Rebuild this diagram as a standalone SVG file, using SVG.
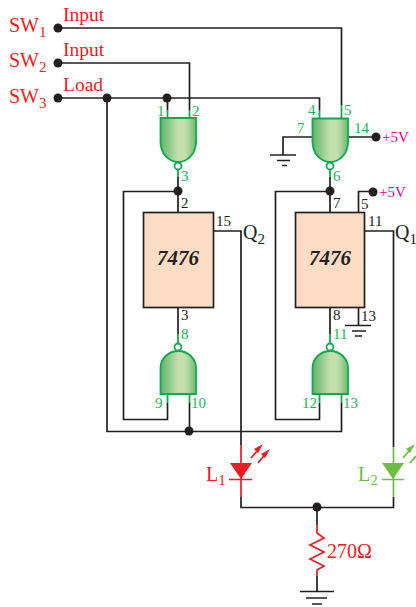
<svg xmlns="http://www.w3.org/2000/svg" width="416" height="607" viewBox="0 0 416 607">
<style>
text{font-family:"Liberation Serif","Times New Roman",serif}
.w{fill:none;stroke:#231f20;stroke-width:1.700}
.g{fill:none;stroke:#13a84f;stroke-width:1.800}
.r{fill:none;stroke:#ed1c24;stroke-width:1.700}
.l{fill:none;stroke:#6dbe45;stroke-width:1.700}
.d{fill:#231f20}
.gate{fill:url(#gg);stroke:#13a84f;stroke-width:1.800}
.bub{fill:#fff;stroke:#13a84f;stroke-width:1.800}
.box{fill:#fcdcc4;stroke:#231f20;stroke-width:1.700}
.big{font-size:20px;fill:#ed1c24}
.lab{font-size:19.500px;fill:#ed1c24}
.sub{font-size:15px;fill:#ed1c24}
.pin{font-size:15px;fill:#22b459}
.blk{font-size:15px;fill:#231f20}
.v{font-size:15px;fill:#ec008c}
.q{font-size:20px;fill:#231f20}
.ic{font-size:21px;font-weight:bold;font-style:italic;fill:#231f20}
</style>
<defs>
<linearGradient id="gg" x1="0" x2="1" y1="0" y2="0">
<stop offset="0" stop-color="#5fb568"/><stop offset="0.5" stop-color="#c4dfae"/><stop offset="0.7" stop-color="#c4dfae"/><stop offset="1" stop-color="#6fbc70"/>
</linearGradient>
</defs>
<g id="connectors">
<path class="w" d="M58 28H341.500V105M58 63H189.500V110M58 98H319.500V110M107 98V431.500H341.500V403M167.500 98V110"/>
<path class="w" d="M178 177V212M178 191.500H123.500V419.500H167.500V403M189.500 403V431.500"/>
<path class="w" d="M178 307V334"/>
<path class="w" d="M330 177V212M330 191.500H275.500V419.500H319.500V403"/>
<path class="w" d="M330 307V334M358.500 307V325"/>
<path class="w" d="M312 137H283V155M348 137H376M358.500 212V191.500H373"/>
<path class="w" d="M213 231H241V445M241 497V507.500H393.500V497M364 231H393.500V447"/>
<path class="w" d="M317 507V525M317 576V591"/>
<path class="w" d="M270 155H296M277 160.500H290M282 165.500H287M345 325.500H371M352 331H366M355 336H362M300 591.500H334M306 598H327M312 604H322"/>
<path class="g" d="M167.500 110V118M189.500 110V118M178 170V177M319.500 110V118M341.500 105V118M330 170V177M178 334V343M330 334V343M167.500 394V403M189.500 394V403M319.500 394V403M341.500 394V403"/>
</g>
<g id="sw1"><circle class="d" cx="58" cy="28" r="4.500"/><text class="big" x="9" y="32">SW<tspan class="sub" dy="5">1</tspan></text><text class="lab" x="63" y="21">Input</text></g>
<g id="sw2"><circle class="d" cx="58" cy="63" r="4.500"/><text class="big" x="9" y="67">SW<tspan class="sub" dy="5">2</tspan></text><text class="lab" x="63" y="56">Input</text></g>
<g id="sw3"><circle class="d" cx="58" cy="98" r="4.500"/><text class="big" x="9" y="103">SW<tspan class="sub" dy="5">3</tspan></text><text class="lab" x="63" y="91">Load</text></g>
<g id="junctions" class="d">
<circle cx="107" cy="98" r="4.500"/><circle cx="167" cy="98" r="4.500"/><circle cx="178" cy="191" r="4.500"/><circle cx="330" cy="191" r="4.500"/><circle cx="376" cy="137" r="4.500"/><circle cx="373" cy="192" r="4.500"/><circle cx="189" cy="431" r="4.500"/><circle cx="317" cy="507" r="4.500"/>
</g>
<g id="gate1"><path class="gate" d="M160.500 118H196V142A17.750 20 0 0 1 160.500 142Z"/><circle class="bub" cx="178" cy="166" r="3.500"/><text class="pin" x="157" y="116">1</text><text class="pin" x="192" y="116">2</text><text class="pin" x="181" y="181">3</text></g>
<g id="gate2"><path class="gate" d="M312.500 118.500H348V142A17.750 20 0 0 1 312.500 142Z"/><circle class="bub" cx="330" cy="166" r="3.500"/><text class="pin" x="308" y="115">4</text><text class="pin" x="344" y="115">5</text><text class="pin" x="297" y="133">7</text><text class="pin" x="354" y="133">14</text><text class="pin" x="333" y="181">6</text><text class="v" x="382" y="142">+5V</text></g>
<g id="ic1"><rect class="box" x="143.500" y="212.500" width="70" height="95"/><text class="ic" x="178" y="265" text-anchor="middle">7476</text><text class="blk" x="181" y="208">2</text><text class="blk" x="216" y="226">15</text><text class="blk" x="181" y="320">3</text><text class="q" x="243" y="239">Q<tspan font-size="15" dy="5">2</tspan></text></g>
<g id="ic2"><rect class="box" x="295.500" y="212.500" width="69" height="95"/><text class="ic" x="330" y="265" text-anchor="middle">7476</text><text class="blk" x="333" y="208">7</text><text class="blk" x="361" y="209">5</text><text class="blk" x="368" y="226">11</text><text class="blk" x="333" y="320">8</text><text class="blk" x="361" y="321">13</text><text class="q" x="395" y="239">Q<tspan font-size="15" dy="5">1</tspan></text><text class="v" x="379" y="197">+5V</text></g>
<g id="gate3"><path class="gate" d="M160.500 394V368A17.750 17 0 0 1 196 368V394Z"/><circle class="bub" cx="178" cy="347" r="3.500"/><text class="pin" x="181" y="339">8</text><text class="pin" x="155" y="408">9</text><text class="pin" x="191" y="408">10</text></g>
<g id="gate4"><path class="gate" d="M312.500 394V368A17.750 17 0 0 1 348 368V394Z"/><circle class="bub" cx="330" cy="347" r="3.500"/><text class="pin" x="333" y="339">11</text><text class="pin" x="302" y="408">12</text><text class="pin" x="343" y="408">13</text></g>
<g id="led1">
<path class="r" d="M241 445V497M229 479.500H252"/><path d="M230 463H252L241 479Z" fill="#ed1c24"/>
<path d="M251 458L258 450M258 463L266 453" stroke="#ed1c24" stroke-width="1.800" fill="none"/>
<path d="M263 444L254 449L258 453ZM270 449L261 454L265 458Z" fill="#ed1c24"/>
<text class="big" x="206" y="481">L<tspan class="sub" dy="4">1</tspan></text></g>
<g id="led2">
<path class="l" d="M393.500 447V497M382 479.500H404"/><path d="M382 463H404L393 479Z" fill="#6dbe45"/>
<path d="M403 458L410 450M410 463L416 456" stroke="#6dbe45" stroke-width="1.800" fill="none"/>
<path d="M415 444L406 449L410 453Z" fill="#6dbe45"/>
<text x="358" y="481" style="font-size:20px;fill:#6dbe45">L<tspan dy="4" style="font-size:15px">2</tspan></text></g>
<g id="r1"><path class="r" d="M317 525V533L324 538L310 545L324 552L310 559L324 566L317 570V576"/><text class="big" x="327" y="558">270Ω</text></g>
</svg>
